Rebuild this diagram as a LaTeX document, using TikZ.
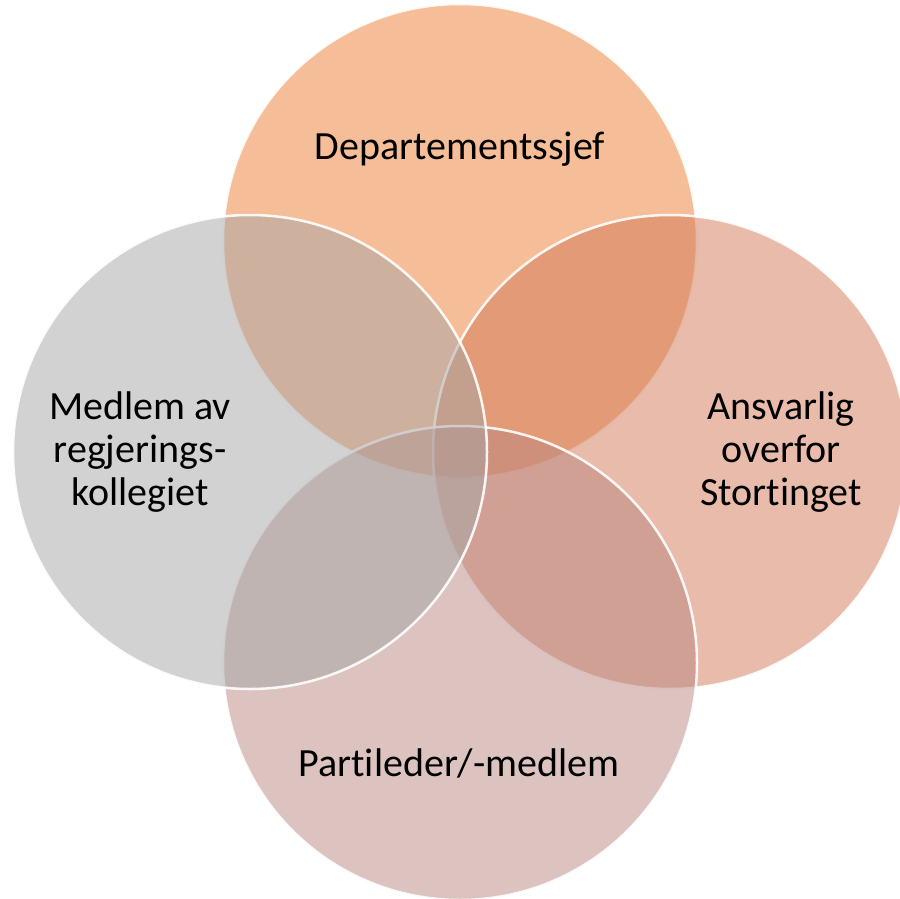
\documentclass[tikz,border=0pt]{standalone}
\usepackage{fontspec}
\setmainfont{Carlito}[Ligatures={NoCommon,NoRare}]
\definecolor{depcol}{HTML}{ED7D31}
\definecolor{anscol}{HTML}{D17755}
\definecolor{partcol}{HTML}{B98781}
\definecolor{medcol}{HTML}{A5A5A5}
\begin{document}
\begin{tikzpicture}[x=1pt,y=-1pt,
	venn/.style={circle,draw=white,line width=2.5pt,fill opacity=0.5,draw opacity=0.9,minimum size=474pt,inner sep=0pt},
	label text/.style={align=center,font=\fontsize{40}{43}\selectfont,text=black}]
	\useasboundingbox (0,0) rectangle (900,899);
	% circles, drawn in order top, right, bottom, left
	\node[venn,fill=depcol] (dep) at (460,241) {};
	\node[venn,fill=anscol] (ans) at (670,452) {};
	\node[venn,fill=partcol] (part) at (460,663) {};
	\node[venn,fill=medcol] (med) at (250,452) {};
	% texts
	\node[label text,anchor=base] (deptext) at (460,159) {Departementssjef};
	\node[label text] (anstext) at (781,452) {Ansvarlig\\overfor\\Stortinget};
	\node[label text,anchor=base] (parttext) at (459,776) {Partileder/-medlem};
	\node[label text] (medtext) at (140,452) {Medlem av\\regjerings-\\kollegiet};
\end{tikzpicture}
\end{document}
